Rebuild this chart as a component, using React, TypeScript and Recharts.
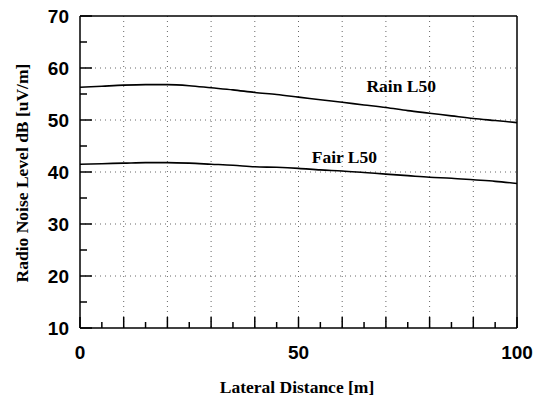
import { LineChart, Line, XAxis, YAxis, CartesianGrid, ReferenceLine, ReferenceDot, Label } from "recharts";

const distances = [0, 5, 10, 15, 20, 25, 30, 35, 40, 45, 50, 55, 60, 65, 70, 75, 80, 85, 90, 95, 100];
const rainL50 = [56.3, 56.5, 56.7, 56.8, 56.8, 56.6, 56.2, 55.8, 55.3, 54.9, 54.4, 53.9, 53.4, 52.9, 52.4, 51.8, 51.3, 50.8, 50.3, 49.9, 49.5];
const fairL50 = [41.5, 41.6, 41.7, 41.8, 41.8, 41.7, 41.5, 41.3, 41.0, 40.9, 40.7, 40.4, 40.2, 39.9, 39.6, 39.3, 39.0, 38.8, 38.5, 38.2, 37.8];

const xTicks = [0, 5, 10, 15, 20, 25, 30, 35, 40, 45, 50, 55, 60, 65, 70, 75, 80, 85, 90, 95, 100];
const yTicks = [10, 15, 20, 25, 30, 35, 40, 45, 50, 55, 60, 65, 70];
const xLabels = [0, 50, 100];
const gridX = [10, 20, 30, 40, 50, 60, 70, 80, 90];
const gridY = [20, 30, 40, 50, 60];

const data = distances.map((d, i) => ({ d, rain: rainL50[i], fair: fairL50[i] }));

const tickFont = { fontFamily: "'Liberation Sans', Arial, sans-serif", fontWeight: 700, fontSize: 19 };
const titleFont = { fontFamily: "'Liberation Serif', 'Times New Roman', serif", fontWeight: 700, fontSize: 17.5 };

function YTick(props: any) {
  const { x, y, payload } = props;
  const v = payload.value;
  const major = v % 10 === 0;
  return (
    <g>
      <line x1={x} x2={x + (major ? 12 : 7)} y1={y} y2={y} stroke="#000" strokeWidth={1.5} />
      {major && (
        <text x={x - 11} y={y} dy={7} textAnchor="end" fill="#000" {...tickFont}>
          {v}
        </text>
      )}
    </g>
  );
}

function XTick(props: any) {
  const { x, y, payload } = props;
  const v = payload.value;
  const major = v % 10 === 0;
  return (
    <g>
      <line x1={x} x2={x} y1={y} y2={y - (major ? 11 : 6)} stroke="#000" strokeWidth={1.5} />
      {xLabels.includes(v) && (
        <text x={x} y={y + 31} textAnchor="middle" fill="#000" {...tickFont}>
          {v}
        </text>
      )}
    </g>
  );
}

export default function App() {
  return (
    <div style={{ position: "absolute", left: 0, top: 0, background: "#fff" }}>
      <LineChart width={538} height={399} data={data} margin={{ top: 16, right: 21, bottom: 0, left: 0 }}>
        <CartesianGrid
          stroke="#666"
          strokeDasharray="1 4"
          horizontalValues={gridY}
          verticalValues={gridX}
        />
        <XAxis
          dataKey="d"
          type="number"
          domain={[0, 100]}
          ticks={xTicks}
          interval={0}
          height={71}
          tickSize={0}
          tickMargin={0}
          tickLine={false}
          tick={<XTick />}
          axisLine={{ stroke: "#000", strokeWidth: 1.5 }}
        >
          <Label
            content={() => (
              <text x={297} y={393} textAnchor="middle" fill="#000" {...titleFont}>
                Lateral Distance [m]
              </text>
            )}
          />
        </XAxis>
        <YAxis
          type="number"
          domain={[10, 70]}
          ticks={yTicks}
          interval={0}
          width={80}
          tickSize={0}
          tickMargin={0}
          tickLine={false}
          tick={<YTick />}
          axisLine={{ stroke: "#000", strokeWidth: 1.5 }}
        >
          <Label
            content={() => (
              <text transform="translate(28,173) rotate(-90)" textAnchor="middle" fill="#000" {...titleFont}>
                Radio Noise Level dB [uV/m]
              </text>
            )}
          />
        </YAxis>
        <ReferenceLine y={70} stroke="#000" strokeWidth={1.5} />
        <ReferenceLine x={100} stroke="#000" strokeWidth={1.5} />
        <Line type="monotone" dataKey="rain" stroke="#000" strokeWidth={1.6} dot={false} isAnimationActive={false} />
        <Line type="monotone" dataKey="fair" stroke="#000" strokeWidth={1.6} dot={false} isAnimationActive={false} />
        <ReferenceDot
          x={73.5}
          y={56.5}
          r={0}
          stroke="none"
          label={{ value: "Rain L50", position: "center", fill: "#000", ...titleFont }}
        />
        <ReferenceDot
          x={60.5}
          y={42.9}
          r={0}
          stroke="none"
          label={{ value: "Fair L50", position: "center", fill: "#000", ...titleFont }}
        />
      </LineChart>
    </div>
  );
}
